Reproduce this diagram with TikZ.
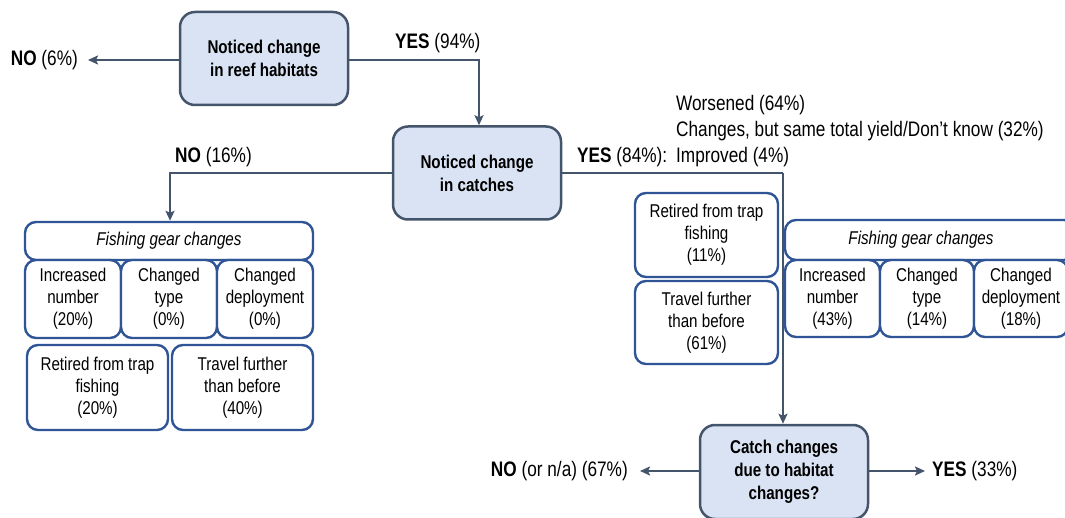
\documentclass[tikz,border=0pt]{standalone}
\usepackage{fontspec}
\setmainfont{Liberation Sans}[FakeStretch=0.82]
\usetikzlibrary{arrows.meta}
\definecolor{decfill}{HTML}{DAE3F3}
\definecolor{decline}{HTML}{44546A}
\definecolor{optline}{HTML}{2F5597}
\tikzset{
  decision/.style={draw=decline, fill=decfill, line width=2.5pt, rounded corners=15pt,
    minimum width=168pt, minimum height=93pt, align=center, inner sep=0pt,
    font=\bfseries\fontsize{18.5}{23}\selectfont},
  option/.style={draw=optline, fill=white, line width=2.4pt, rounded corners=11pt,
    align=center, inner sep=0pt, font=\fontsize{18.5}{22}\selectfont},
  label/.style={inner sep=0pt, font=\fontsize{21}{26}\selectfont},
  flow/.style={draw=decline, line width=2pt},
  flowarrow/.style={flow, -{Stealth[length=10pt,width=9pt,inset=2pt]}},
}
\begin{document}
\begin{tikzpicture}[x=1pt,y=-1pt]
\useasboundingbox (0,0) rectangle (1065,518);

% decision boxes
\node[decision] (reef) at (264,58.5) {Noticed change\\in reef habitats};
\node[decision] (catch) at (477,173) {Noticed change\\in catches};
\node[decision, minimum height=94pt] (cause) at (784,472) {Catch changes\\due to habitat\\changes?};

% left branch: no change in catches
\node[option, minimum width=288pt, minimum height=38pt] (gearL) at (169,241) {\itshape Fishing gear changes};
\node[option, minimum width=96pt, minimum height=78pt] (incL) at (73,299) {Increased\\number\\(20\%)};
\node[option, minimum width=96pt, minimum height=78pt] (typL) at (169,299) {Changed\\type\\(0\%)};
\node[option, minimum width=96pt, minimum height=78pt] (depL) at (265,299) {Changed\\deployment\\(0\%)};
\node[option, minimum width=141pt, minimum height=85pt] (retL) at (97.5,387.5) {Retired from trap\\fishing\\(20\%)};
\node[option, minimum width=141pt, minimum height=85pt] (trvL) at (242.5,387.5) {Travel further\\than before\\(40\%)};

% right branch: change in catches
\node[option, minimum width=143pt, minimum height=84pt] (retR) at (706.5,235) {Retired from trap\\fishing\\(11\%)};
\node[option, minimum width=143pt, minimum height=83pt] (trvR) at (706.5,322.5) {Travel further\\than before\\(61\%)};
\node[option, minimum width=290pt, minimum height=40pt] (gearR) at (930,240) {\itshape\hspace*{-18pt}Fishing gear changes};
\node[option, minimum width=95pt, minimum height=77pt] (incR) at (832.5,298.5) {Increased\\number\\(43\%)};
\node[option, minimum width=94pt, minimum height=77pt] (typR) at (927,298.5) {Changed\\type\\(14\%)};
\node[option, minimum width=94pt, minimum height=77pt] (depR) at (1021,298.5) {Changed\\deployment\\(18\%)};

% branch labels
\node[label, anchor=east] (noReef) at (78,60) {\textbf{NO} (6\%)};
\node[label, anchor=west] (yesReef) at (395,43) {\textbf{YES} (94\%)};
\node[label, anchor=west] (noCatch) at (175,157) {\textbf{NO} (16\%)};
\node[label, anchor=west] (yesCatch) at (577,157) {\textbf{YES} (84\%):};
\node[label, anchor=south west, align=left] (kinds) at (676,167)
  {Worsened (64\%)\\Changes, but same total yield/Don't know (32\%)\\Improved (4\%)};
\node[label, anchor=east] (noCause) at (628,471) {\textbf{NO} (or n/a) (67\%)};
\node[label, anchor=west] (yesCause) at (932,471) {\textbf{YES} (33\%)};

% turning points of the connectors
\coordinate (cYes) at (479,60);
\coordinate (cNo) at (170,173);
\coordinate (cDown) at (783,173);

% connectors
\draw[flowarrow] (reef.west |- 0,60) -- ([xshift=10pt]noReef.east);
\draw[flowarrow] (reef.east |- 0,60) -- (cYes) -- (cYes |- catch.north);
\draw[flowarrow] (catch.west) -- (cNo) -- (cNo |- gearL.north);
\draw[flow] (catch.east) -- (cDown);
\draw[flowarrow] (cDown) -- (cDown |- cause.north);
\draw[flowarrow] (cause.west |- 0,471) -- ([xshift=12pt]noCause.east);
\draw[flowarrow] (cause.east |- 0,471) -- ([xshift=-7pt]yesCause.west);
\end{tikzpicture}
\end{document}
